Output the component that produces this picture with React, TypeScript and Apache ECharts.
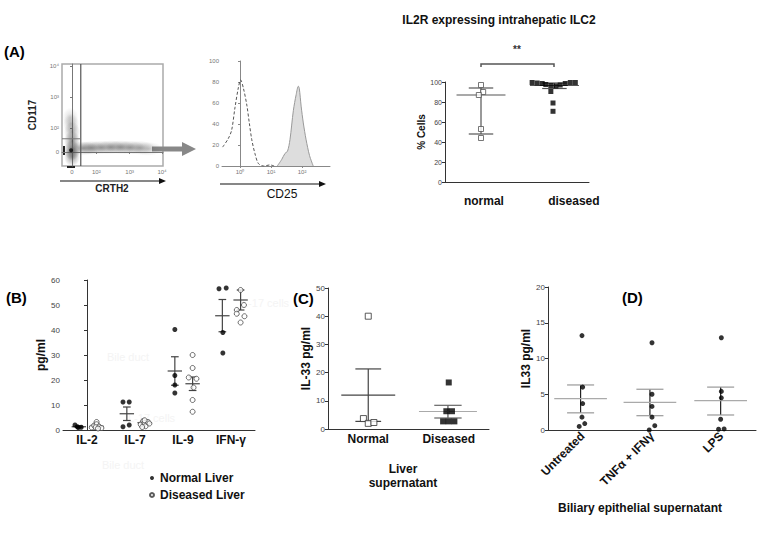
import React, { useEffect, useRef } from "react";
import * as echarts from "echarts";

const FONT = "'Liberation Sans', Arial, Helvetica, sans-serif";

// ---------- Panel A: flow dot plot (display units) ----------
const flowXTicks = [0, 0.75, 1.78, 2.78];
const flowXLabels = ["0", "10²", "10³", "10⁴"];
const flowYTicks = [0, 0.75, 1.75, 2.75];
const flowYLabels = ["0", "10²", "10³", "10⁴"];
const densityX = [0, 0, 0, 0, -0.03, -0.05, 0.35, 0.6, 0.9, 1.2, 1.5, 1.8, 2.1, 2.35];
const densityY = [-0.15, 0.05, 0.35, 0.65, 0.9, 1.1, 0.12, 0.13, 0.14, 0.15, 0.15, 0.14, 0.13, 0.1];
const densityW = [0.7, 1.0, 0.75, 0.55, 0.4, 0.25, 0.6, 0.55, 0.5, 0.55, 0.55, 0.5, 0.45, 0.3];
const densityCore = [[-0.03, 0.05]];
const gateX = 0.27;
const gateY = 0.42;

// ---------- Panel A: CD25 histogram (log10 units) ----------
const histXTicks = [0, 1, 2];
const histXLabels = ["10⁰", "10¹", "10²"];
const isoX = [-0.56, -0.38, -0.27, -0.16, -0.05, 0.02, 0.11, 0.22, 0.3, 0.38, 0.48, 0.59, 0.75, 0.97, 1.1];
const isoY = [18, 26, 34, 56, 75, 82, 74, 58, 41, 25, 12, 2.5, 0, 1, 0];
const cd25X = [1.2, 1.34, 1.45, 1.53, 1.61, 1.72, 1.81, 1.88, 1.91, 1.97, 2.04, 2.13, 2.24, 2.36];
const cd25Y = [0, 6, 12, 14, 25, 53, 68, 76, 74, 57, 41, 25, 10, 0];

// ---------- Panel A: IL2R % cells ----------
const il2rGroups = ["normal", "diseased"];
const il2rLabelPos = [0.54, 1.79];
const il2rNormal = [[0.5, 97], [0.53, 90], [0.47, 87], [0.5, 53], [0.5, 44]];
const il2rDiseased = [
  [1.21, 99.5], [1.28, 99], [1.35, 98.5], [1.4, 97.5], [1.47, 96.5], [1.54, 96], [1.6, 97],
  [1.67, 98.5], [1.74, 99.5], [1.81, 99.5], [1.47, 90.5], [1.5, 79], [1.5, 70.7],
];
// [x, mean, low, high]
const il2rSummary = [[0.5, 87, 48, 94], [1.52, 96.5, 93.5, 99]];

// ---------- Panel B ----------
const bCategories = ["IL-2", "IL-7", "IL-9", "IFN-γ"];
const bNormal = [
  [-0.25, 2.0], [-0.18, 1.0], [-0.12, 1.1], [-0.2, 1.3],
  [0.75, 11.2], [0.88, 11.2], [0.75, 1.3], [0.88, 2.0],
  [1.83, 40.2], [1.83, 21.8], [1.83, 18.0], [1.83, 14.8],
  [2.75, 56.5], [2.9, 56.8], [2.83, 39], [2.83, 30.8],
];
const bDiseased = [
  [0.1, 1.0], [0.15, 1.8], [0.2, 3.2], [0.2, 2.3], [0.25, 1.4], [0.3, 0.8], [0.18, 1.1], [0.23, 0.6],
  [1.12, 2.2], [1.17, 3.6], [1.2, 2.8], [1.22, 1.5], [1.27, 3.2], [1.3, 2.6], [1.2, 3.9], [1.15, 1.2],
  [2.2, 30], [2.2, 24.8], [2.12, 21], [2.28, 20.5], [2.22, 17], [2.2, 12], [2.2, 7.3],
  [3.2, 56], [3.27, 50], [3.12, 48], [3.12, 46.5], [3.28, 45.5], [3.2, 43],
];
const bNormalSummary = [[-0.17, 1.3, 1.0, 1.6], [0.83, 6.5, 3.8, 9.2], [1.83, 23.6, 17.9, 29.3], [2.82, 45.7, 39.3, 52.2]];
const bDiseasedSummary = [[0.2, 1.5, 1.1, 2.0], [1.2, 2.9, 2.5, 3.4], [2.2, 18.5, 15.8, 21.2], [3.2, 52, 48, 56]];

// ---------- Panel C ----------
const cCategories = ["Normal", "Diseased"];
const cNormal = [[0.5, 40], [0.44, 3.7], [0.5, 2.0], [0.57, 2.3]];
const cDiseased = [[1.5, 16.5], [1.47, 6.3], [1.54, 6.3], [1.43, 2.7], [1.5, 2.7], [1.57, 2.7]];
const cNormalSummary = [[0.5, 12, 2.7, 21.3]];
const cDiseasedSummary = [[1.49, 6.2, 3.9, 8.4]];

// ---------- Panel D ----------
const dCategories = ["Untreated", "TNFα + IFNγ", "LPS"];
const dPoints = [
  [0.49, 13.2], [0.5, 6.0], [0.5, 3.7], [0.49, 1.8], [0.45, 0.5], [0.53, 0.9],
  [1.5, 12.2], [1.5, 5.0], [1.5, 3.3], [1.5, 1.8], [1.54, 0.6], [1.46, 0],
  [2.5, 12.9], [2.5, 5.4], [2.5, 4.5], [2.49, 1.5], [2.46, 0.1], [2.54, 0.15],
];
const dSummary = [[0.47, 4.4, 2.4, 6.3], [1.47, 3.85, 2.0, 5.7], [2.49, 4.1, 2.1, 6.0]];

function makeErrRender(meanHalf: number, capHalf: number, meanColor: string, capColor: string, stemColor: string) {
  return function (_params: any, api: any) {
    const x = api.value(0), m = api.value(1), lo = api.value(2), hi = api.value(3);
    const c = (a: number, b: number) => api.coord([a, b]);
    const seg = (p1: number[], p2: number[], color: string) => ({
      type: "line",
      shape: { x1: p1[0], y1: p1[1], x2: p2[0], y2: p2[1] },
      style: { stroke: color, lineWidth: 1.2 },
    });
    return {
      type: "group",
      children: [
        seg(c(x, lo), c(x, hi), stemColor),
        seg(c(x - capHalf, lo), c(x + capHalf, lo), capColor),
        seg(c(x - capHalf, hi), c(x + capHalf, hi), capColor),
        seg(c(x - meanHalf, m), c(x + meanHalf, m), meanColor),
      ],
    };
  };
}

const nameStyle = { fontWeight: "bold", fontSize: 12, color: "#111", fontFamily: FONT };

function valueY(grid: number, min: number, max: number, interval: number, labelSize: number, name: string, nameGap: number) {
  return {
    type: "value", gridIndex: grid, min, max, interval,
    axisLine: { show: true, lineStyle: { color: "#333", width: 1 } },
    axisTick: { show: true, length: 3, lineStyle: { color: "#333" } },
    axisLabel: { fontSize: labelSize, color: "#444", margin: 3, fontFamily: FONT },
    splitLine: { show: false },
    name, nameLocation: "middle", nameGap, nameTextStyle: nameStyle,
  };
}

function catX(grid: number, min: number, max: number, positions: number[], labels: string[], extra: any = {}) {
  return {
    type: "value", gridIndex: grid, min, max,
    axisLine: { show: true, onZero: false, lineStyle: { color: "#333", width: 1 } },
    axisTick: { show: false },
    splitLine: { show: false },
    axisLabel: {
      customValues: positions,
      formatter: (v: number) => {
        let best = 0;
        positions.forEach((p, i) => { if (Math.abs(p - v) < Math.abs(positions[best] - v)) best = i; });
        return labels[best];
      },
      fontWeight: "bold", fontSize: 12, color: "#111", fontFamily: FONT, margin: 4,
      ...(extra.axisLabel || {}),
    },
    ...(extra.rest || {}),
  };
}

export default function App() {
  const ref = useRef<HTMLDivElement>(null);
  useEffect(() => {
    if (!ref.current) return;
    const chart = echarts.init(ref.current, null, { renderer: "svg" });

    const blobGradient = new echarts.graphic.RadialGradient(0.5, 0.5, 0.5, [
      { offset: 0, color: "rgba(60,60,60,0.8)" },
      { offset: 0.45, color: "rgba(80,80,80,0.45)" },
      { offset: 1, color: "rgba(90,90,90,0)" },
    ]);
    const densityData = densityX.map((x, i) => ({
      value: [x, densityY[i]],
      symbolSize: i < 6 ? [16, 20] : [30, 14],
      itemStyle: { opacity: densityW[i] },
    }));

    const flowAxisLabel = { fontSize: 6, color: "#777", fontFamily: FONT, margin: 3 };

    const option: any = {
      animation: false,
      backgroundColor: "#fff",
      textStyle: { fontFamily: FONT },
      grid: [
        { left: 62, top: 64, width: 101, height: 102, show: true, borderColor: "#aaa", borderWidth: 1.5 },
        { left: 222, top: 61, width: 108, height: 105 },
        { left: 445, top: 82, width: 144, height: 100 },
        { left: 63, top: 280, width: 192, height: 150 },
        { left: 328, top: 288, width: 161, height: 141 },
        { left: 548, top: 287, width: 208, height: 143 },
      ],
      legend: {
        data: ["Normal Liver", "Diseased Liver"],
        orient: "vertical", left: 144, top: 467, itemWidth: 4, itemHeight: 4, itemGap: 5,
        textStyle: { fontWeight: "bold", fontSize: 12, color: "#111", fontFamily: FONT, padding: [0, 0, 0, 1] },
        selectedMode: false,
      },
      xAxis: [
        {
          type: "value", gridIndex: 0, min: -0.31, max: 2.81,
          axisLine: { show: true, lineStyle: { color: "#777" } },
          axisTick: { show: true, length: 2, customValues: flowXTicks, lineStyle: { color: "#777" } },
          axisLabel: { ...flowAxisLabel, customValues: flowXTicks, formatter: (v: number) => flowXLabels[flowXTicks.indexOf(v)] ?? "" },
          splitLine: { show: false },
        },
        {
          type: "value", gridIndex: 1, min: -0.58, max: 2.9,
          axisLine: { show: true, lineStyle: { color: "#888" } },
          axisTick: { show: true, length: 2, customValues: histXTicks, lineStyle: { color: "#888" } },
          axisLabel: { ...flowAxisLabel, customValues: histXTicks, formatter: (v: number) => histXLabels[histXTicks.indexOf(v)] ?? "" },
          splitLine: { show: false },
        },
        catX(2, 0, 2, il2rLabelPos, il2rGroups, { axisLabel: { margin: 13 } }),
        catX(3, -0.5, 3.5, [0, 1, 2, 3], bCategories, { axisLabel: { margin: 4 } }),
        catX(4, 0, 2, [0.5, 1.5], cCategories, {
          axisLabel: { margin: 4 },
          rest: {
            name: "Liver\nsupernatant", nameLocation: "middle", nameGap: 33,
            nameTextStyle: { ...nameStyle, lineHeight: 14, padding: [0, 11, 0, 0] },
          },
        }),
        catX(5, 0, 3, [0.5, 1.5, 2.5], dCategories, {
          axisLabel: { margin: 4, rotate: 45 },
          rest: {
            name: "Biliary epithelial supernatant", nameLocation: "middle", nameGap: 72,
            nameTextStyle: { ...nameStyle, padding: [0, 24, 0, 0] },
          },
        }),
      ],
      yAxis: [
        {
          type: "value", gridIndex: 0, min: -0.45, max: 2.81,
          axisLine: { show: true, lineStyle: { color: "#777" } },
          axisTick: { show: true, length: 2, customValues: flowYTicks, lineStyle: { color: "#777" } },
          axisLabel: { ...flowAxisLabel, customValues: flowYTicks, formatter: (v: number) => flowYLabels[flowYTicks.indexOf(v)] ?? "" },
          splitLine: { show: false },
          name: "CD117", nameLocation: "middle", nameGap: 25,
          nameTextStyle: { fontWeight: "bold", fontSize: 10, color: "#222", fontFamily: FONT },
        },
        {
          type: "value", gridIndex: 1, min: 0, max: 100, interval: 20,
          axisLine: { show: true, lineStyle: { color: "#888" } },
          axisTick: { show: true, length: 2, lineStyle: { color: "#888" } },
          axisLabel: { ...flowAxisLabel },
          splitLine: { show: false },
        },
        { ...valueY(2, 0, 100, 20, 7, "% Cells", 11), nameTextStyle: { ...nameStyle, fontSize: 10 } },
        valueY(3, 0, 60, 10, 8, "pg/ml", 6),
        valueY(4, 0, 50, 10, 8, "IL-33 pg/ml", 11),
        valueY(5, 0, 20, 5, 8, "IL33 pg/ml", 6),
      ],
      series: [
        // flow density
        {
          type: "scatter", name: "density", xAxisIndex: 0, yAxisIndex: 0, symbol: "circle",
          itemStyle: { color: blobGradient }, data: densityData, silent: true,
        },
        {
          type: "scatter", name: "core", xAxisIndex: 0, yAxisIndex: 0, symbolSize: 4,
          itemStyle: { color: "#111", opacity: 0.85 }, data: densityCore,
        },
        {
          type: "line", name: "gateV", xAxisIndex: 0, yAxisIndex: 0, symbol: "none",
          lineStyle: { color: "#555", width: 1.2 }, data: [[gateX, -0.45], [gateX, 2.81]],
        },
        {
          type: "line", name: "gateH", xAxisIndex: 0, yAxisIndex: 0, symbol: "none",
          lineStyle: { color: "#777", width: 1 }, data: [[-0.31, gateY], [gateX, gateY]],
        },
        // histogram
        {
          type: "line", name: "isotype", xAxisIndex: 1, yAxisIndex: 1, symbol: "none", smooth: 0.3,
          lineStyle: { color: "#555", width: 1, type: [3, 2] },
          data: isoX.map((x, i) => [x, isoY[i]]),
        },
        {
          type: "line", name: "CD25", xAxisIndex: 1, yAxisIndex: 1, symbol: "none", smooth: 0.3,
          lineStyle: { color: "#999", width: 1 }, areaStyle: { color: "#ddd", opacity: 1 },
          data: cd25X.map((x, i) => [x, cd25Y[i]]),
        },
        // IL2R
        {
          type: "custom", name: "il2rErr", xAxisIndex: 2, yAxisIndex: 2, z: 1,
          renderItem: makeErrRender(0.34, 0.17, "#555", "#555", "#555"), data: il2rSummary,
        },
        {
          type: "scatter", name: "il2rNormal", xAxisIndex: 2, yAxisIndex: 2, symbol: "rect", symbolSize: 5, z: 3,
          itemStyle: { color: "#fff", borderColor: "#555", borderWidth: 1 }, data: il2rNormal,
        },
        {
          type: "scatter", name: "il2rDiseased", xAxisIndex: 2, yAxisIndex: 2, symbol: "rect", symbolSize: 5, z: 3,
          itemStyle: { color: "#000" }, data: il2rDiseased,
        },
        // Panel B
        {
          type: "custom", name: "bNormalErr", xAxisIndex: 3, yAxisIndex: 3, z: 1,
          renderItem: makeErrRender(0.15, 0.08, "#444", "#444", "#444"), data: bNormalSummary,
        },
        {
          type: "custom", name: "bDiseasedErr", xAxisIndex: 3, yAxisIndex: 3, z: 1,
          renderItem: makeErrRender(0.15, 0.08, "#444", "#444", "#444"), data: bDiseasedSummary,
        },
        {
          type: "scatter", name: "Normal Liver", xAxisIndex: 3, yAxisIndex: 3, symbol: "circle", symbolSize: 5, z: 3,
          itemStyle: { color: "#000" }, data: bNormal,
        },
        {
          type: "scatter", name: "Diseased Liver", xAxisIndex: 3, yAxisIndex: 3, symbol: "circle", symbolSize: 5, z: 3,
          itemStyle: { color: "#fff", borderColor: "#333", borderWidth: 0.9 }, data: bDiseased,
        },
        // Panel C
        {
          type: "custom", name: "cNormalErr", xAxisIndex: 4, yAxisIndex: 4, z: 1,
          renderItem: makeErrRender(0.335, 0.16, "#444", "#444", "#444"), data: cNormalSummary,
        },
        {
          type: "custom", name: "cDiseasedErr", xAxisIndex: 4, yAxisIndex: 4, z: 1,
          renderItem: makeErrRender(0.36, 0.17, "#aaa", "#666", "#555"), data: cDiseasedSummary,
        },
        {
          type: "scatter", name: "cNormal", xAxisIndex: 4, yAxisIndex: 4, symbol: "rect", symbolSize: 6, z: 3,
          itemStyle: { color: "#fff", borderColor: "#333", borderWidth: 1 }, data: cNormal,
        },
        {
          type: "scatter", name: "cDiseased", xAxisIndex: 4, yAxisIndex: 4, symbol: "rect", symbolSize: 6, z: 3,
          itemStyle: { color: "#000" }, data: cDiseased,
        },
        // Panel D
        {
          type: "custom", name: "dErr", xAxisIndex: 5, yAxisIndex: 5, z: 1,
          renderItem: makeErrRender(0.38, 0.195, "#aaa", "#999", "#222"), data: dSummary,
        },
        {
          type: "scatter", name: "dPoints", xAxisIndex: 5, yAxisIndex: 5, symbol: "circle", symbolSize: 5, z: 3,
          itemStyle: { color: "#000" }, data: dPoints,
        },
      ],
      graphic: [
        { type: "text", left: 4, top: 44, style: { text: "(A)", font: `bold 15px ${FONT}`, fill: "#000" } },
        { type: "text", left: 6, top: 290, style: { text: "(B)", font: `bold 15px ${FONT}`, fill: "#000" } },
        { type: "text", left: 293, top: 291, style: { text: "(C)", font: `bold 15px ${FONT}`, fill: "#000" } },
        { type: "text", left: 622, top: 290, style: { text: "(D)", font: `bold 15px ${FONT}`, fill: "#000" } },
        { type: "text", x: 499, y: 20, style: { text: "IL2R expressing intrahepatic ILC2", font: `bold 12px ${FONT}`, fill: "#111", align: "center", verticalAlign: "middle" } },
        { type: "text", x: 517, y: 49, style: { text: "**", font: `bold 10px ${FONT}`, fill: "#333", align: "center", verticalAlign: "middle" } },
        { type: "polyline", shape: { points: [[481, 67], [481, 64], [554, 64], [554, 67]] }, style: { stroke: "#555", lineWidth: 1.5, fill: "none" } },
        // flow arrow
        { type: "line", shape: { x1: 152, y1: 149, x2: 184, y2: 149 }, style: { stroke: "#888", lineWidth: 5 } },
        { type: "polygon", shape: { points: [[182, 142], [196, 149], [182, 156]] }, style: { fill: "#888" } },
        // axis arrows
        { type: "line", shape: { x1: 60, y1: 181, x2: 160, y2: 181 }, style: { stroke: "#111", lineWidth: 1.2 } },
        { type: "polygon", shape: { points: [[159, 178], [166, 181], [159, 184]] }, style: { fill: "#111" } },
        { type: "text", x: 112, y: 188, style: { text: "CRTH2", font: `bold 10px ${FONT}`, fill: "#222", align: "center", verticalAlign: "middle" } },
        { type: "line", shape: { x1: 220, y1: 184, x2: 320, y2: 184 }, style: { stroke: "#111", lineWidth: 1.2 } },
        { type: "polygon", shape: { points: [[319, 181], [326, 184], [319, 187]] }, style: { fill: "#111" } },
        { type: "text", x: 282, y: 194, style: { text: "CD25", font: `12px ${FONT}`, fill: "#111", align: "center", verticalAlign: "middle" } },
        // compressed-scale marks of dot plot
        { type: "rect", shape: { x: 63, y: 146, width: 2, height: 9 }, style: { fill: "#222" } },
        { type: "rect", shape: { x: 67, y: 166, width: 8, height: 2 }, style: { fill: "#222" } },
        // faint background watermark texts
        { type: "text", x: 128, y: 357, style: { text: "Bile duct", font: `11px ${FONT}`, fill: "#f4f4f4", align: "center", verticalAlign: "middle" }, z: -10 },
        { type: "text", x: 150, y: 418, style: { text: "IL-17 cells", font: `11px ${FONT}`, fill: "#f4f4f4", align: "center", verticalAlign: "middle" }, z: -10 },
        { type: "text", x: 123, y: 465, style: { text: "Bile duct", font: `11px ${FONT}`, fill: "#f4f4f4", align: "center", verticalAlign: "middle" }, z: -10 },
        { type: "text", x: 264, y: 303, style: { text: "IL-17 cells", font: `11px ${FONT}`, fill: "#f4f4f4", align: "center", verticalAlign: "middle" }, z: -10 },
      ],
    };
    chart.setOption(option);
    return () => chart.dispose();
  }, []);
  return <div ref={ref} style={{ position: "absolute", left: 0, top: 0, width: 763, height: 545, background: "#fff" }} />;
}
